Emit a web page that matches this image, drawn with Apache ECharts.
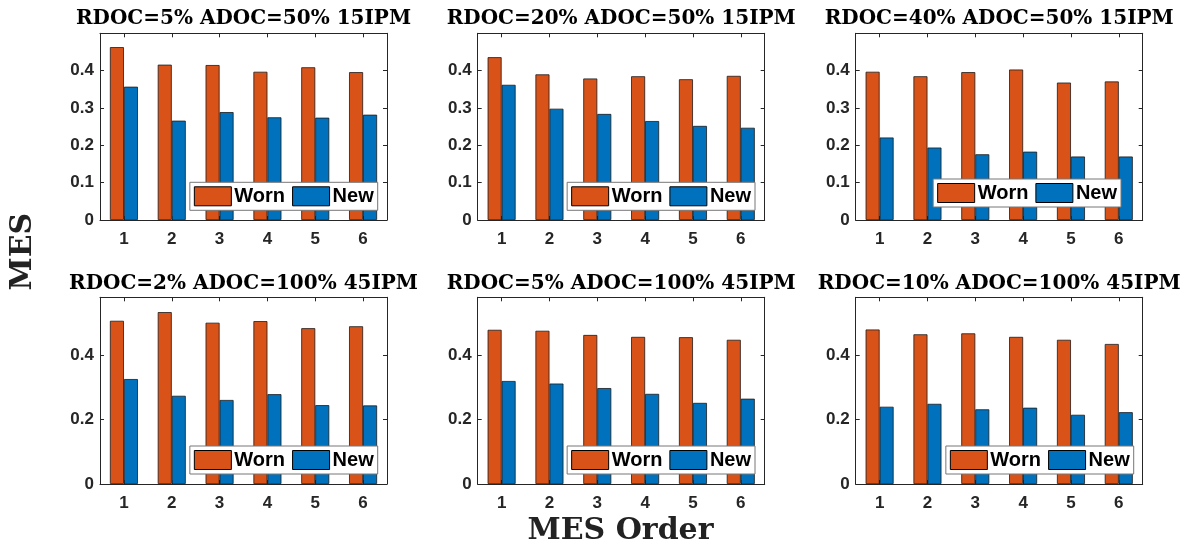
<!DOCTYPE html>
<html>
<head>
<meta charset="utf-8">
<style>
  html, body { margin: 0; padding: 0; background: #fff; }
  #chart { width: 1185px; height: 545px; }
</style>
<script src="https://cdn.jsdelivr.net/npm/echarts@6/dist/echarts.min.js"></script>
</head>
<body>
<div id="chart"></div>
<script>
// MES order categories shared by every panel
const mesOrders = ['1', '2', '3', '4', '5', '6'];

// Panel titles (test conditions)
const panelTitles = [
  'RDOC=5% ADOC=50% 15IPM',
  'RDOC=20% ADOC=50% 15IPM',
  'RDOC=40% ADOC=50% 15IPM',
  'RDOC=2% ADOC=100% 45IPM',
  'RDOC=5% ADOC=100% 45IPM',
  'RDOC=10% ADOC=100% 45IPM'
];

// MES values per panel, worn vs new tool
const wornP1 = [0.463, 0.416, 0.415, 0.397, 0.409, 0.396];
const newP1  = [0.357, 0.266, 0.289, 0.275, 0.274, 0.282];
const wornP2 = [0.436, 0.390, 0.379, 0.385, 0.377, 0.386];
const newP2  = [0.362, 0.298, 0.284, 0.265, 0.252, 0.247];
const wornP3 = [0.397, 0.385, 0.396, 0.403, 0.368, 0.371];
const newP3  = [0.221, 0.194, 0.176, 0.183, 0.170, 0.170];
const wornP4 = [0.507, 0.534, 0.501, 0.506, 0.484, 0.490];
const newP4  = [0.326, 0.274, 0.261, 0.279, 0.245, 0.244];
const wornP5 = [0.479, 0.476, 0.463, 0.457, 0.456, 0.448];
const newP5  = [0.320, 0.312, 0.298, 0.280, 0.252, 0.265];
const wornP6 = [0.480, 0.465, 0.468, 0.457, 0.448, 0.435];
const newP6  = [0.240, 0.249, 0.232, 0.237, 0.215, 0.223];

// Y-axis ranges per row
const topRowY = { max: 0.5, interval: 0.1 };
const bottomRowY = { max: 0.58, interval: 0.2 };

const wornSets = [wornP1, wornP2, wornP3, wornP4, wornP5, wornP6];
const newSets = [newP1, newP2, newP3, newP4, newP5, newP6];

const WORN_COLOR = '#D95319';
const NEW_COLOR = '#0072BD';
const AXIS_COLOR = '#262626';
const SANS = '"Liberation Sans", Arial, sans-serif';
const SERIF = '"DejaVu Serif", serif';

// panel geometry
const colLeft = [100, 477.7, 855.7];
const rowTop = [33.3, 297.3];
const gridW = 287;
const gridH = 186.7;
const legendPos = [
  { right: 807.3, top: 182.3 },
  { right: 430, top: 182.3 },
  { right: 64, top: 179 },
  { right: 807.3, top: 446 },
  { right: 430, top: 446 },
  { right: 51.3, top: 446 }
];

const grids = [], xAxes = [], yAxes = [], series = [], legends = [], graphics = [];

for (let i = 0; i < 6; i++) {
  const row = Math.floor(i / 3), col = i % 3;
  const yr = row === 0 ? topRowY : bottomRowY;
  const left = colLeft[col], top = rowTop[row];
  grids.push({ left: left, top: top, width: gridW, height: gridH, containLabel: false });

  const tick = { show: true, inside: true, length: 4, alignWithLabel: true, lineStyle: { color: AXIS_COLOR, width: 1 } };
  const line = { show: true, onZero: false, lineStyle: { color: AXIS_COLOR, width: 1 } };

  xAxes.push({
    type: 'category', gridIndex: i, position: 'bottom', data: mesOrders,
    axisLine: line, axisTick: tick,
    axisLabel: { color: AXIS_COLOR, fontFamily: SANS, fontWeight: 'bold', fontSize: 17, margin: 11 },
    splitLine: { show: false }
  });
  xAxes.push({
    type: 'category', gridIndex: i, position: 'top', data: mesOrders,
    axisLine: line, axisTick: tick, axisLabel: { show: false }, splitLine: { show: false }
  });
  const yTick = { show: true, inside: true, length: 4, lineStyle: { color: AXIS_COLOR, width: 1 } };
  yAxes.push({
    type: 'value', gridIndex: i, position: 'left', min: 0, max: yr.max, interval: yr.interval,
    axisLine: line, axisTick: yTick,
    axisLabel: { color: AXIS_COLOR, fontFamily: SANS, fontWeight: 'bold', fontSize: 17, margin: 6, showMaxLabel: false },
    splitLine: { show: false }
  });
  yAxes.push({
    type: 'value', gridIndex: i, position: 'right', min: 0, max: yr.max, interval: yr.interval,
    axisLine: line, axisTick: yTick, axisLabel: { show: false }, splitLine: { show: false }
  });

  const barStyle = (c) => ({ color: c, borderColor: '#1a1a1a', borderWidth: 0.8 });
  series.push({
    name: 'Worn', type: 'bar', xAxisIndex: 2 * i, yAxisIndex: 2 * i,
    data: wornSets[i], barWidth: 14, barGap: '0%', itemStyle: barStyle(WORN_COLOR),
    emphasis: { disabled: true }, z: 2
  });
  series.push({
    name: 'New', type: 'bar', xAxisIndex: 2 * i, yAxisIndex: 2 * i,
    data: newSets[i], barWidth: 14, barGap: '0%', itemStyle: barStyle(NEW_COLOR),
    emphasis: { disabled: true }, z: 2
  });

  legends.push({
    data: ['Worn', 'New'], orient: 'horizontal',
    right: legendPos[i].right, top: legendPos[i].top,
    icon: 'rect', itemWidth: 37, itemHeight: 19, itemGap: 7,
    backgroundColor: '#fff', borderColor: '#777', borderWidth: 1,
    padding: [4, 4, 4, 4], borderRadius: 0,
    itemStyle: { borderColor: '#000', borderWidth: 1 },
    textStyle: { color: '#000', fontFamily: SANS, fontWeight: 'bold', fontSize: 20, padding: [0, 0, 0, -2] },
    selectedMode: false, z: 10
  });

  graphics.push({
    type: 'text', x: left + gridW / 2, y: row === 0 ? 19.2 : 284.2,
    style: {
      text: panelTitles[i], fill: '#000', font: 'bold 20px ' + SERIF,
      align: 'center', verticalAlign: 'middle', textAlign: 'center', textVerticalAlign: 'middle'
    }
  });
}

// shared axis titles
graphics.push({
  type: 'text', x: 23.5, y: 251.7, rotation: Math.PI / 2,
  style: {
    text: 'MES', fill: '#222', font: 'bold 30px ' + SERIF,
    align: 'center', verticalAlign: 'middle', textAlign: 'center', textVerticalAlign: 'middle'
  }
});
graphics.push({
  type: 'text', x: 620.5, y: 531.3,
  style: {
    text: 'MES Order', fill: '#222', font: 'bold 30px ' + SERIF,
    align: 'center', verticalAlign: 'middle', textAlign: 'center', textVerticalAlign: 'middle'
  }
});

const chart = echarts.init(document.getElementById('chart'), null, { renderer: 'canvas' });
chart.setOption({
  animation: false,
  backgroundColor: '#fff',
  grid: grids,
  xAxis: xAxes,
  yAxis: yAxes,
  legend: legends,
  series: series,
  graphic: graphics
});
</script>
</body>
</html>
